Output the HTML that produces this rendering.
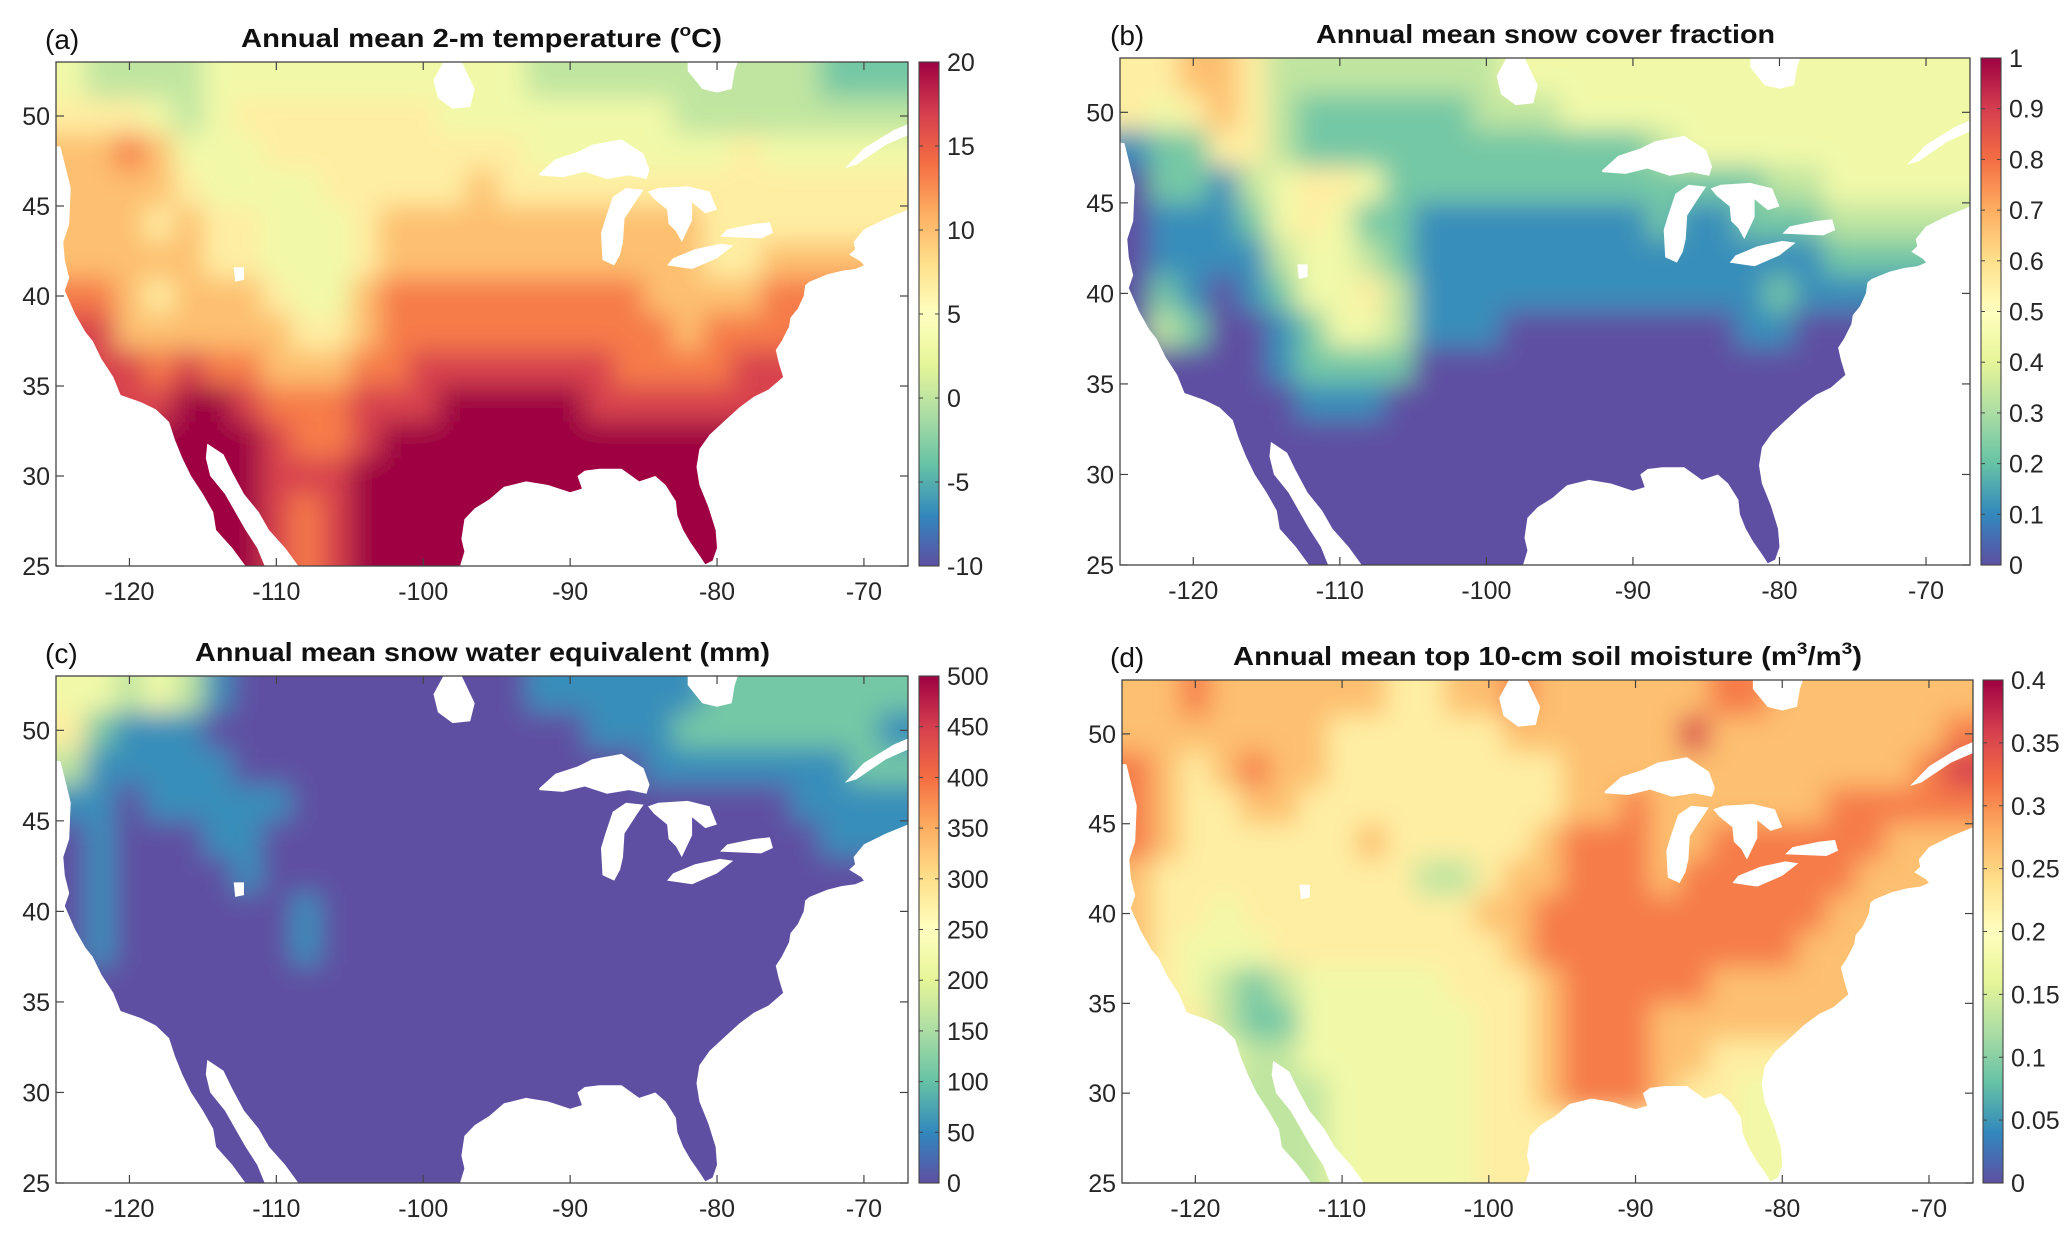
<!DOCTYPE html>
<html><head><meta charset="utf-8">
<style>
html,body{margin:0;padding:0;background:#fff;}
svg{display:block;font-family:"Liberation Sans",Arial,sans-serif;}
</style></head>
<body>
<svg id="fig" width="2067" height="1233" viewBox="0 0 2067 1233" xmlns="http://www.w3.org/2000/svg">
<defs>
<filter id="blur" x="-5%" y="-5%" width="110%" height="110%"><feGaussianBlur stdDeviation="13"/></filter>
</defs>
</svg>
<script>
// ---- Data (grid: 2deg lon cols from -125, 2deg lat rows from 53 downward; digit d -> min + d/9*(max-min)) ----
const tempRows = [
"43333444444444443333333333222",
"55543455555554444444433333333",
"66764445555555554444444544444",
"66665444455555655555555555555",
"66656554445666666666665555555",
"66666554445666666666665566666",
"77656665446777777777666677777",
"88666666556777777777767777777",
"88878776667788888887777888888",
"88889987778889999988888888888",
"88899998778999999999999999999",
"99999998889999999999999999999",
"99999998789999999999999999999",
"99999998789999999999999999999"];
const snowRows = [
"55665333333334444444444444444",
"54565322222233344444444444444",
"12255322222222222234444444444",
"02213455422222222222223344444",
"01112454221111111121122233333",
"01111344321111111111111122222",
"02101244531111111111112111111",
"03200124431110000000011000000",
"00000122220000000000000000000",
"00000011100000000000000000000",
"00000000000000000000000000000",
"00000000000000000000000000000",
"00000000000000000000000000000",
"00000000000000000000000000000"];
const sweRows = [
"44343100000000001111112222222",
"52111000000000000011122222221",
"31111100000000000000111111122",
"11011111000000000000000001111",
"01000110000000000000000000111",
"01000010000000000000000000000",
"01000000100000000000000000000",
"01000000100000000000000000000",
"00000000000000000000000000000",
"00000000000000000000000000000",
"00000000000000000000000000000",
"00000000000000000000000000000",
"00000000000000000000000000000",
"00000000000000000000000000000"];
const soilRows = [
"66766666655667666666776666666",
"66666665555556666668666666667",
"76567665555555566666666666678",
"76556655555555566766666677777",
"76555555655555677766777777666",
"65555555553356677767777776666",
"65545555555566777777777766666",
"65444555555556777777777666666",
"55432344444555677777666666666",
"55532244444455677766666666666",
"44443344444455677766555555555",
"33333334444455677765544444444",
"33333334444455555555544444444",
"33333334444455555555544444444"];
const tempTicks = [-10,-5,0,5,10,15,20];
const snowTicks = [0,0.1,0.2,0.3,0.4,0.5,0.6,0.7,0.8,0.9,1];
const sweTicks = [0,50,100,150,200,250,300,350,400,450,500];
const soilTicks = [0,0.05,0.1,0.15,0.2,0.25,0.3,0.35,0.4];
const lonTicks = [-120,-110,-100,-90,-80,-70];
const latTicks = [25,30,35,40,45,50];
// coastline / water polygons [lon,lat]
const landPoly = [[-126,54],[-66,54],[-66,45.2],[-67,44.8],[-68.5,44.3],[-70,43.7],[-70.7,43],[-70.6,42.6],[-71,42.3],[-70.2,41.9],[-70,41.7],[-70.6,41.5],[-71.5,41.4],[-72.5,41.2],[-73.7,40.8],[-74,40.6],[-74.1,40],[-74.5,39.3],[-75,38.8],[-75.1,38.3],[-75.6,37.5],[-76,37],[-75.8,36.3],[-75.5,35.5],[-76.5,34.8],[-77.5,34.4],[-78.5,33.8],[-79.3,33.2],[-80.5,32.3],[-81.2,31.5],[-81.4,30.5],[-81.2,29.5],[-80.6,28.3],[-80.1,27],[-80,26],[-80.3,25.3],[-80.8,25.1],[-81.2,25.6],[-81.8,26.3],[-82.3,27],[-82.7,27.8],[-82.8,28.6],[-83.5,29.5],[-84.2,30],[-85.3,29.7],[-86.5,30.4],[-88,30.4],[-89,30.3],[-89.5,30],[-89.2,29.3],[-90,29.1],[-91.5,29.5],[-93,29.7],[-94.5,29.4],[-95.5,28.7],[-96.5,28.2],[-97.2,27.6],[-97.4,26.5],[-97.2,25.8],[-97.5,25],[-97.6,23.5],[-107.8,23.5],[-108.5,25],[-109.4,26],[-110.5,27],[-111.2,28],[-112.2,29],[-113,30.2],[-113.6,31.2],[-114.7,31.8],[-114.8,31],[-114.5,30],[-113.5,29],[-112.8,28],[-112.1,27],[-111.3,26],[-110.8,25],[-110.4,23.5],[-111.6,23.5],[-112.1,25],[-113,26],[-114.1,27],[-114.3,28],[-115,29],[-115.8,30],[-116.4,31],[-116.9,32],[-117.3,33],[-118.2,33.7],[-119.2,34.1],[-120.6,34.5],[-121.1,35.5],[-121.9,36.5],[-122.5,37.5],[-123,38],[-123.7,39],[-124.4,40.3],[-124.1,41],[-124.4,42],[-124.5,43],[-124.1,44],[-124,46],[-124.3,47],[-124.7,48.3],[-126,48.4]];
const lakes = [
[[-92.1,46.7],[-90.5,46.6],[-89,46.9],[-87.5,46.5],[-86,46.7],[-84.8,46.5],[-84.6,47],[-85,47.9],[-86.5,48.7],[-88.5,48.4],[-89.5,48],[-91,47.6],[-92.1,46.8]],
[[-87.8,42],[-87.9,43.5],[-87.6,44.3],[-87.1,45.5],[-86.2,46],[-85,45.9],[-85.5,45.3],[-86.3,44.3],[-86.4,43],[-86.6,42.3],[-87,41.7]],
[[-84.7,45.8],[-84,46],[-82,46.1],[-80.5,45.8],[-80,44.8],[-80.8,44.6],[-81.7,45.2],[-81.7,44.2],[-82.4,43],[-82.8,43.6],[-83.3,44],[-83.4,44.8],[-84.3,45.4]],
[[-83.4,41.7],[-81.7,41.5],[-80,42.1],[-78.9,42.8],[-79.8,42.9],[-81.5,42.6],[-83,42.1]],
[[-79.8,43.3],[-77,43.2],[-76.2,43.5],[-76.4,44.1],[-77.5,44],[-79.3,43.7]],
[[-99,51],[-98,50.4],[-96.8,50.5],[-96.5,51.5],[-97.5,53.2],[-98.5,53.2],[-99.3,52]],
[[-82,53.2],[-82,52.5],[-81,51.5],[-80,51.3],[-79,51.5],[-78.8,52.5],[-78.5,53.2]],
[[-112.9,41.6],[-112.2,41.6],[-112.2,40.9],[-112.8,40.8]],
[[-66,49.9],[-68,49.2],[-70,48.2],[-71.3,47.1],[-70.5,47.3],[-68.5,48.4],[-66,49.3]]];

const LON0=-125, LON1=-67, LAT0=25, LAT1=53;
const cmap=["#5e4fa2","#3288bd","#66c2a5","#abdda4","#e6f598","#ffffbf","#fee08b","#fdae61","#f46d43","#d53e4f","#9e0142"];
function hex(c){return [parseInt(c.slice(1,3),16),parseInt(c.slice(3,5),16),parseInt(c.slice(5,7),16)];}
function colorAt(t){t=Math.max(0,Math.min(1,t));const p=t*(cmap.length-1);const i=Math.min(Math.floor(p),cmap.length-2);const f=p-i;const a=hex(cmap[i]),b=hex(cmap[i+1]);return "rgb("+a.map((v,k)=>Math.round(v+(b[k]-v)*f)).join(",")+")";}

const panels=[
 {id:"a",label:"(a)",title:"Annual mean 2-m temperature (",sup:"o",tail:"C)",rows:tempRows,min:-10,max:20,ticks:tempTicks,x0:56,x1:908,y0:62,y1:566,cb0:919,titleY:47,titleX0:241,titleX1:722,name:"temperature"},
 {id:"b",label:"(b)",title:"Annual mean snow cover fraction",rows:snowRows,min:0,max:1,ticks:snowTicks,x0:1120,x1:1970,y0:58,y1:565,cb0:1981,titleY:43,titleX0:1316,titleX1:1775,name:"snow-cover"},
 {id:"c",label:"(c)",title:"Annual mean snow water equivalent (mm)",rows:sweRows,min:0,max:500,ticks:sweTicks,x0:56,x1:908,y0:676,y1:1183,cb0:919,titleY:661,titleX0:195,titleX1:770,name:"swe"},
 {id:"d",label:"(d)",title:"Annual mean top 10-cm soil moisture (m",sup:"3",tail:"/m",sup2:"3",tail2:")",rows:soilRows,min:0,max:0.4,ticks:soilTicks,x0:1122,x1:1973,y0:680,y1:1183,cb0:1983,titleY:665,titleX0:1233,titleX1:1862,name:"soil-moisture"}];

const NS="http://www.w3.org/2000/svg";
const svg=document.getElementById("fig");
const defs=svg.querySelector("defs");
function el(tag,attrs,parent){const e=document.createElementNS(NS,tag);for(const k in attrs)e.setAttribute(k,attrs[k]);(parent||svg).appendChild(e);return e;}

panels.forEach(P=>{
  const sx=lon=>P.x0+(lon-LON0)/(LON1-LON0)*(P.x1-P.x0);
  const sy=lat=>P.y1-(lat-LAT0)/(LAT1-LAT0)*(P.y1-P.y0);
  const g=el("g",{});
  
  
  const cr=el("clipPath",{id:"rect"+P.id},defs);
  el("rect",{x:P.x0,y:P.y0,width:P.x1-P.x0,height:P.y1-P.y0},cr);
  const cl=el("clipPath",{id:"land"+P.id},defs);
  el("path",{d:"M"+landPoly.map(p=>sx(p[0]).toFixed(1)+","+sy(p[1]).toFixed(1)).join("L")+"Z"},cl);
  const outer=el("g",{"clip-path":"url(#rect"+P.id+")"},g);
  const landG=el("g",{"clip-path":"url(#land"+P.id+")"},outer);
  const cells=el("g",{filter:"url(#blur)"},landG);
  
  
  const nR=P.rows.length;
  P.rows.forEach((row,j)=>{
    const nC=row.length;
    for(let i=0;i<nC;i++){
      const d=+row[i];
      const v=P.min+d/9*(P.max-P.min);
      const lonA=LON0+i*2, latA=LAT1-j*2;
      let x=sx(lonA), x2=sx(lonA+2), y=sy(latA), y2=sy(latA-2);
      if(i===0)x-=50; if(i===nC-1)x2+=50; if(j===0)y-=50; if(j===nR-1)y2+=50;
      const r=el("rect",{x:x.toFixed(1),y:y.toFixed(1),width:(x2-x+0.6).toFixed(1),height:(y2-y+0.6).toFixed(1),fill:colorAt((v-P.min)/(P.max-P.min))},cells);
      
      
    }
  });
  lakes.forEach(L=>{
    const lk=el("path",{d:"M"+L.map(p=>sx(p[0]).toFixed(1)+","+sy(p[1]).toFixed(1)).join("L")+"Z",fill:"#fff"},outer);
    
    
  });
  const fr=el("rect",{x:P.x0,y:P.y0,width:P.x1-P.x0,height:P.y1-P.y0,fill:"none",stroke:"#444","stroke-width":1.3},g);
  
  
  lonTicks.forEach(t=>{
    const x=sx(t);
    el("line",{x1:x,x2:x,y1:P.y1,y2:P.y1-8,stroke:"#444","stroke-width":1.2},g);
    el("line",{x1:x,x2:x,y1:P.y0,y2:P.y0+8,stroke:"#444","stroke-width":1.2},g);
    const tx=el("text",{x:x,y:P.y1+34,"text-anchor":"middle","font-size":25,fill:"#262626"},g);
    tx.textContent=t;
    
    
  });
  latTicks.forEach(t=>{
    const y=sy(t);
    el("line",{x1:P.x0,x2:P.x0+8,y1:y,y2:y,stroke:"#444","stroke-width":1.2},g);
    el("line",{x1:P.x1,x2:P.x1-8,y1:y,y2:y,stroke:"#444","stroke-width":1.2},g);
    const ty=el("text",{x:P.x0-6,y:y+9,"text-anchor":"end","font-size":25,fill:"#262626"},g);
    ty.textContent=t;
    
    
  });
  const gid="grad"+P.id;
  const lg=el("linearGradient",{id:gid,x1:0,y1:1,x2:0,y2:0},defs);
  cmap.forEach((c,k)=>el("stop",{offset:(k/(cmap.length-1)),"stop-color":c},lg));
  const cb=el("rect",{x:P.cb0,y:P.y0,width:20,height:P.y1-P.y0,fill:"url(#"+gid+")",stroke:"#444","stroke-width":1.1},g);
  
  
  const cy=v=>P.y1-(v-P.min)/(P.max-P.min)*(P.y1-P.y0);
  P.ticks.forEach(t=>{
    const y=cy(t);
    el("line",{x1:P.cb0,x2:P.cb0+4,y1:y,y2:y,stroke:"#444"},g);
    el("line",{x1:P.cb0+20,x2:P.cb0+16,y1:y,y2:y,stroke:"#444"},g);
    const ct=el("text",{x:P.cb0+28,y:y+9,"font-size":25,fill:"#262626"},g);
    ct.textContent=t;
    
    
  });
  const lab=el("text",{x:(P.id==="a"||P.id==="c")?45:1110,y:P.titleY+2,"font-size":28,fill:"#111"},g);
  lab.textContent=P.label;
  
  
  const tt=el("text",{x:P.titleX0,y:P.titleY,"font-size":26,"font-weight":"bold",fill:"#111",textLength:P.titleX1-P.titleX0,lengthAdjust:"spacingAndGlyphs"},g);
  
  
  const s1=el("tspan",{},tt); s1.textContent=P.title;
  if(P.sup){
    const s2=el("tspan",{"font-size":17,dy:-11},tt); s2.textContent=P.sup;
    const s3=el("tspan",{dy:11},tt); s3.textContent=P.tail;
  }
  if(P.sup2){
    const s4=el("tspan",{"font-size":17,dy:-11},tt); s4.textContent=P.sup2;
    const s5=el("tspan",{dy:11},tt); s5.textContent=P.tail2;
  }
});
</script>
</body></html>
